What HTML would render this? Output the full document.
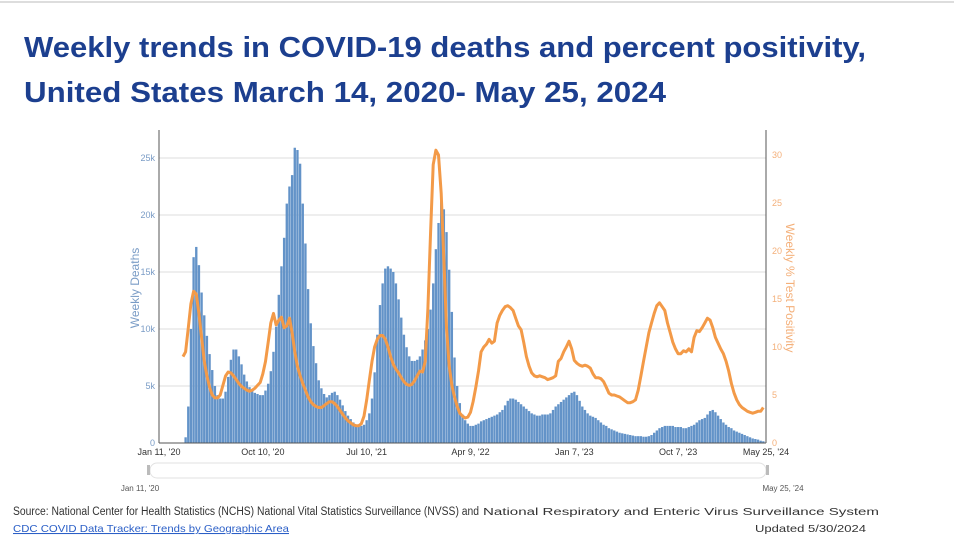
<!DOCTYPE html>
<html><head><meta charset="utf-8"><style>
html,body{margin:0;padding:0;background:#fff;}
svg{display:block;font-family:"Liberation Sans",sans-serif;}
</style></head><body>
<svg id="chart" width="954" height="542" viewBox="0 0 954 542" xmlns="http://www.w3.org/2000/svg">
<line x1="0" y1="2" x2="954" y2="2" stroke="#bbb" stroke-width="1"/>
<text x="24" y="57" font-size="29" font-weight="bold" fill="#1c3f8f" textLength="842" lengthAdjust="spacingAndGlyphs">Weekly trends in COVID-19 deaths and percent positivity,</text>
<text x="24" y="102" font-size="29" font-weight="bold" fill="#1c3f8f" textLength="642" lengthAdjust="spacingAndGlyphs">United States March 14, 2020- May 25, 2024</text>
<g id="grid"></g>
<g id="bars"></g>
<path id="posline" fill="none" stroke="#f39a48" stroke-width="3" stroke-linejoin="round"/>
<g id="axes"></g>
<text transform="translate(139,288) rotate(-90)" text-anchor="middle" font-size="12" fill="#7a9cc6">Weekly Deaths</text>
<text transform="translate(786,288) rotate(90)" text-anchor="middle" font-size="12" fill="#f4b07a">Weekly % Test Positivity</text>
<rect x="150" y="463" width="616" height="15" rx="7" fill="#fff" stroke="#e2e2e2"/>
<rect x="147" y="465" width="3" height="10" fill="#bbb"/>
<rect x="766" y="465" width="3" height="10" fill="#bbb"/>
<text x="140" y="491" font-size="8" fill="#555" text-anchor="middle">Jan 11, '20</text>
<text x="783" y="491" font-size="8" fill="#555" text-anchor="middle">May 25, '24</text>
<text x="13" y="515" font-size="11.5" fill="#333"><tspan textLength="466" lengthAdjust="spacingAndGlyphs">Source: National Center for Health Statistics (NCHS) National Vital Statistics Surveillance (NVSS) and</tspan><tspan x="483" font-size="10" textLength="396" lengthAdjust="spacingAndGlyphs">National Respiratory and Enteric Virus Surveillance System</tspan></text>
<text x="13" y="532" font-size="10.5" fill="#2b5fc7" text-decoration="underline" textLength="276" lengthAdjust="spacingAndGlyphs">CDC COVID Data Tracker: Trends by Geographic Area</text>
<text x="755" y="532" font-size="10.5" fill="#333" textLength="111" lengthAdjust="spacingAndGlyphs">Updated 5/30/2024</text>
</svg>
<script>
// Weekly deaths (thousands), starting week index 10 (weeks since Jan 11, 2020)
const deathsStartWeek = 10;
const deathsK = [0.5,3.2,10,16.3,17.2,15.6,13.2,11.2,9.4,7.8,6.4,5,4.2,3.9,3.9,4.5,5.8,7.3,8.2,8.2,7.6,6.9,6,5.4,4.9,4.6,4.4,4.3,4.2,4.2,4.6,5.2,6.3,8,10.2,13,15.5,18,21,22.5,23.5,25.9,25.7,24.5,21,17.5,13.5,10.5,8.5,7,5.5,4.8,4.3,4,4.2,4.4,4.5,4.2,3.8,3.3,2.8,2.4,2.1,1.8,1.6,1.5,1.5,1.6,2,2.6,3.9,6.2,9.5,12.1,14,15.3,
15.5,15.3,15,14,12.6,11,9.5,8.4,7.6,7.2,7.2,7.3,7.6,8.2,9,10,11.7,14,17,19.3,21.2,20.5,18.5,15.2,11.5,7.5,5,3.5,2.5,2,1.7,1.5,
1.5,1.6,1.7,1.9,2.0,2.1,2.2,2.3,2.4,2.5,2.7,2.9,3.3,3.7,3.9,3.9,3.8,3.6,3.4,3.2,3.0,2.8,2.6,2.5,2.4,2.4,2.5,2.5,2.5,2.6,2.9,3.2,3.4,3.6,3.8,4.0,4.2,4.4,
4.5,4.2,3.7,3.2,2.9,2.6,2.4,2.3,2.2,2.0,1.8,1.6,1.5,1.3,1.2,1.1,1.0,0.9,0.85,0.8,0.75,0.7,0.65,0.6,0.6,0.6,0.55,0.55,0.6,0.7,0.9,1.1,1.3,1.4,1.5,1.5,1.5,1.5,1.4,1.4,1.4,1.3,1.3,1.4,1.5,1.6,1.8,2.0,2.1,2.2,2.5,2.8,2.9,2.7,2.4,2.1,1.8,1.6,1.4,1.3,1.1,1.0,0.9,0.8,0.7,0.6,0.5,0.4,0.35,0.3,0.2,0.15];
// Weekly % test positivity, starting week index 9
const posStartWeek = 9;
const positivity = [9,9.5,12,14.5,15.8,15.5,13.5,11,8.5,7,5.8,5,4.7,4.7,5,6,7,7.4,7.3,7,6.6,6.2,5.9,5.7,5.5,5.4,5.5,5.7,6,6.3,7.2,8.5,10.5,12.5,13.5,12.3,12.8,13.1,12,12.2,13,11.5,9.5,8,7,6.2,5.5,4.8,4.3,4,3.8,3.7,3.7,3.9,4.1,4.3,4.3,4.1,3.8,3.4,3,2.6,2.3,2.1,1.9,1.8,1.8,2,2.8,4.5,6.5,8.5,10,10.8,11.2,11.2,10.8,10,9,8.2,7.7,7.3,6.8,6.4,6.1,6,6.1,6.5,7,7.5,7.4,8.5,14,22,29,30.5,30,26,19,12,8,6,4.8,3.8,3.1,2.8,2.6,2.7,3.2,4.3,5.8,7.5,9.5,10,10.3,10.8,10.4,10.6,12.5,13.3,13.8,14.2,14.3,14.1,
13.8,13,12.2,11.8,10.5,9,8,7.3,7,6.9,7,6.9,6.8,6.6,6.7,6.8,7,8.5,8.8,9.5,10,10.6,9.8,8.6,8.3,8.1,8,8.1,8,7.8,7.2,6.8,6.8,6.7,6.4,5.8,5.2,5,5,4.9,4.8,4.6,4.4,4.2,4.2,4.3,4.5,5.5,7,8.5,10,11.5,12.5,13.5,14.3,14.6,14.2,13.8,12.5,11.5,10.5,9.8,9.3,9.3,9.6,9.5,9.8,9.5,11,11.7,11.6,12,12.5,13,12.8,12,11,10.4,9.8,9.3,8.5,7.5,6.2,5.2,4.5,4,3.7,3.5,3.3,3.2,3.1,3.2,3.3,3.3,3.7];
const leftTicks = [0,5,10,15,20,25];
const rightTicks = [0,5,10,15,20,25,30];
const xTickLabels = ["Jan 11, '20","Oct 10, '20","Jul 10, '21","Apr 9, '22","Jan 7, '23","Oct 7, '23","May 25, '24"];
const xTickWeeks = [0,39,78,117,156,195,228];

const NS="http://www.w3.org/2000/svg";
const X0=159,X1=766,Y0=443,totalWeeks=228;
const yLeftPerK=(443-158)/25, yRightPerPct=(443-155)/30;
const xScale=w=>X0+(X1-X0)*w/totalWeeks;
const yL=k=>Y0-k*yLeftPerK;
const yR=p=>Y0-p*yRightPerPct;
function mk(tag,attrs,parent){const e=document.createElementNS(NS,tag);for(const k in attrs)e.setAttribute(k,attrs[k]);parent.appendChild(e);return e;}
const grid=document.getElementById('grid'),axes=document.getElementById('axes'),bars=document.getElementById('bars');
leftTicks.forEach(t=>{
  if(t>0){const l=mk('line',{x1:X0,x2:X1,y1:yL(t),y2:yL(t),stroke:'#dcdcdc','stroke-width':1},grid);
  
  }
  const tx=mk('text',{x:X0-4,y:yL(t)+3,'font-size':9,fill:'#7a9cc6','text-anchor':'end'},axes);
  tx.textContent=t===0?'0':t+'k';
  
  
});
rightTicks.forEach(t=>{
  const tx=mk('text',{x:X1+6,y:yR(t)+3,'font-size':9,fill:'#f4b07a'},axes);
  tx.textContent=String(t);
  
  
});
xTickLabels.forEach((lab,i)=>{
  const tx=mk('text',{x:xScale(xTickWeeks[i]),y:Y0+12,'font-size':9,fill:'#333','text-anchor':'middle'},axes);
  tx.textContent=lab;
  
  
});
const bw=(X1-X0)/totalWeeks;
deathsK.forEach((v,i)=>{
  const w=deathsStartWeek+i;
  const r=mk('rect',{x:xScale(w)-bw/2+0.15,y:yL(v),width:bw-0.3,height:Y0-yL(v),fill:'#6393c8'},bars);
  
  
});
let d='';
positivity.forEach((p,i)=>{d+=(i?'L':'M')+xScale(posStartWeek+i).toFixed(1)+','+yR(p).toFixed(1);});
document.getElementById('posline').setAttribute('d',d);
mk('line',{x1:X0,x2:X0,y1:130,y2:Y0,stroke:'#555','stroke-width':1},axes);
mk('line',{x1:X1,x2:X1,y1:130,y2:Y0,stroke:'#555','stroke-width':1},axes);
mk('line',{x1:X0,x2:X1,y1:Y0,y2:Y0,stroke:'#555','stroke-width':1},axes);
</script>
</body></html>
